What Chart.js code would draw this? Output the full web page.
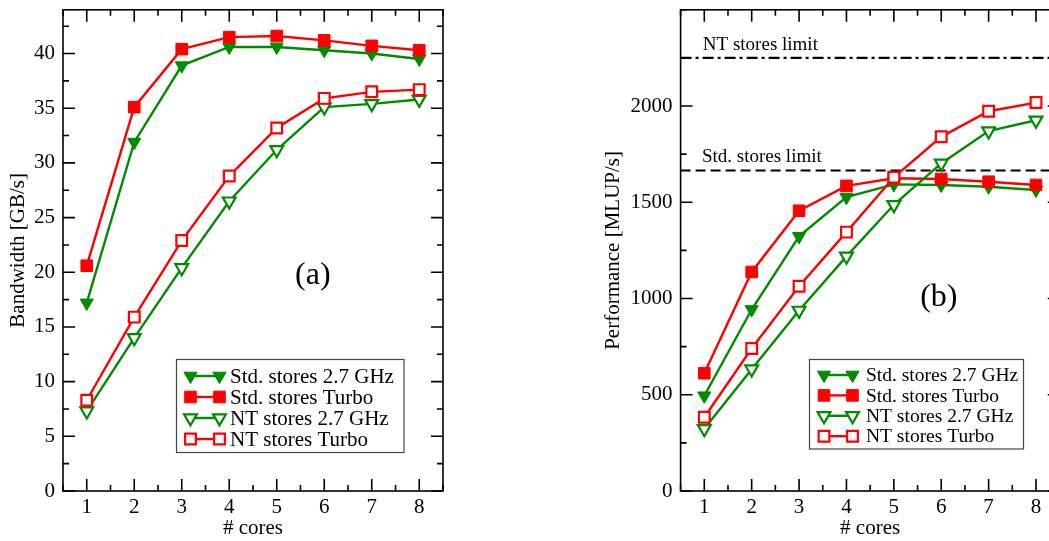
<!DOCTYPE html>
<html>
<head>
<meta charset="utf-8">
<title>Memory bandwidth and stencil performance</title>
<script src="https://cdn.jsdelivr.net/npm/chart.js@4.4.1/dist/chart.umd.min.js"></script>
<style>
html, body { margin: 0; padding: 0; background: #fff; overflow: hidden; width: 1049px; height: 541px; }
#boxA { position: absolute; left: 0; top: 0; }
#boxB { position: absolute; left: 590px; top: 0; }
</style>
</head>
<body>
<div id="boxA"><canvas id="chartA" width="460" height="541"></canvas></div>
<div id="boxB"><canvas id="chartB" width="480" height="541"></canvas></div>
<script>
// x axis: number of cores
const cores = [1, 2, 3, 4, 5, 6, 7, 8];
const coreTicks = [1, 2, 3, 4, 5, 6, 7, 8];

// (a) bandwidth in GB/s
const bwTicks = [0, 5, 10, 15, 20, 25, 30, 35, 40];
const bwStd27 = [17.2, 31.9, 38.9, 40.6, 40.6, 40.3, 40.0, 39.5];
const bwStdTurbo = [20.6, 35.1, 40.4, 41.5, 41.6, 41.2, 40.7, 40.3];
const bwNt27 = [7.3, 14.0, 20.4, 26.5, 31.2, 35.1, 35.4, 35.8];
const bwNtTurbo = [8.3, 15.9, 22.9, 28.8, 33.2, 35.9, 36.5, 36.7];

// (b) performance in MLUP/s
const perfTicks = [0, 500, 1000, 1500, 2000];
const perfStd27 = [495, 943, 1323, 1527, 1593, 1590, 1581, 1564];
const perfStdTurbo = [612, 1138, 1456, 1585, 1625, 1621, 1607, 1590];
const perfNt27 = [323, 633, 938, 1219, 1487, 1702, 1870, 1926];
const perfNtTurbo = [383, 740, 1064, 1345, 1630, 1840, 1973, 2018];
const ntLimit = 2250;
const stdLimit = 1665;

const seriesLabels = ['Std. stores 2.7 GHz', 'Std. stores Turbo', 'NT stores 2.7 GHz', 'NT stores Turbo'];

const SERIF = '"Liberation Serif", "Times New Roman", serif';
const GREEN = '#008b00';
const RED = '#ff0000';

// marker look of each series (xmgrace style)
const seriesStyle = [
  { color: GREEN, open: false, shape: 'triangle', rot: 180, r: 7.6 },
  { color: RED, open: false, shape: 'rect', rot: 0, r: 8.2 },
  { color: GREEN, open: true, shape: 'triangle', rot: 180, r: 7.4 },
  { color: RED, open: true, shape: 'rect', rot: 0, r: 7.6 }
];

function seriesSet(values, k) {
  const s = seriesStyle[k];
  return {
    label: seriesLabels[k],
    data: cores.map((c, i) => ({ x: c, y: values[i] })),
    borderColor: s.color,
    borderWidth: 2.4,
    pointStyle: s.shape,
    pointRotation: s.rot,
    pointRadius: s.r,
    pointBorderColor: s.color,
    pointBackgroundColor: s.open ? '#fff' : s.color,
    pointBorderWidth: s.open ? 2.2 : 1,
    order: 4 - k
  };
}

function limitSet(value, dash) {
  return {
    isLimit: true,
    data: [{ x: 0.5, y: value }, { x: 8.5, y: value }],
    borderColor: '#000',
    borderWidth: 2.2,
    borderDash: dash,
    pointRadius: 0,
    order: 10
  };
}

// box frame with inward major and minor ticks on all four sides
const frameTicks = {
  id: 'frameTicks',
  beforeDatasetsDraw(chart, args, o) {
    const { ctx, chartArea: a, scales: { x, y } } = chart;
    const major = 12, minor = 6;
    ctx.save();
    ctx.strokeStyle = '#000';
    ctx.lineWidth = 1.6;
    ctx.beginPath();
    const isMajor = (scale, v) => scale.ticks.some(t => Math.abs(t.value - v) < 1e-6);
    const xMarks = [], yMarks = [];
    for (let v = Math.ceil(x.min / o.xMinor) * o.xMinor; v <= x.max + 1e-9; v += o.xMinor) {
      xMarks.push([v, isMajor(x, v) ? major : minor]);
    }
    for (let v = Math.ceil(y.min / o.yMinor) * o.yMinor; v <= y.max + 1e-9; v += o.yMinor) {
      yMarks.push([v, isMajor(y, v) ? major : minor]);
    }
    xMarks.forEach(([v, len]) => {
      const px = x.getPixelForValue(v);
      ctx.moveTo(px, a.bottom); ctx.lineTo(px, a.bottom - len);
      ctx.moveTo(px, a.top); ctx.lineTo(px, a.top + len);
    });
    yMarks.forEach(([v, len]) => {
      const py = y.getPixelForValue(v);
      ctx.moveTo(a.left, py); ctx.lineTo(a.left + len, py);
      ctx.moveTo(a.right, py); ctx.lineTo(a.right - len, py);
    });
    ctx.stroke();
    ctx.strokeRect(a.left, a.top, a.right - a.left, a.bottom - a.top);
    ctx.restore();
  }
};

// legend box with a short line and two markers per entry
const boxLegend = {
  id: 'boxLegend',
  afterDraw(chart, args, o) {
    const ctx = chart.ctx;
    ctx.save();
    ctx.fillStyle = '#fff';
    ctx.fillRect(o.left, o.top, o.width, o.height);
    ctx.strokeStyle = '#444';
    ctx.lineWidth = 1.2;
    ctx.strokeRect(o.left, o.top, o.width, o.height);
    chart.data.datasets.filter(d => !d.isLimit).forEach((d, i) => {
      const yy = o.top + o.firstRow + i * o.rowStep;
      const x1 = o.left + o.sym1, x2 = o.left + o.sym2;
      ctx.strokeStyle = d.borderColor;
      ctx.lineWidth = d.borderWidth;
      ctx.beginPath();
      ctx.moveTo(x1, yy);
      ctx.lineTo(x2, yy);
      ctx.stroke();
      [x1, x2].forEach(xx => {
        ctx.fillStyle = d.pointBackgroundColor;
        ctx.strokeStyle = d.pointBorderColor;
        ctx.lineWidth = d.pointBorderWidth;
        Chart.helpers.drawPoint(ctx, {
          pointStyle: d.pointStyle, rotation: d.pointRotation, radius: d.pointRadius, borderWidth: d.pointBorderWidth
        }, xx, yy);
      });
      ctx.fillStyle = '#000';
      ctx.font = o.fontSize + 'px ' + SERIF;
      ctx.textBaseline = 'middle';
      ctx.textAlign = 'left';
      ctx.fillText(d.label, o.left + o.textX, yy + 1);
    });
    ctx.restore();
  }
};

// free text placed in data coordinates
const plotText = {
  id: 'plotText',
  afterDatasetsDraw(chart, args, o) {
    const { ctx, scales: { x, y } } = chart;
    ctx.save();
    ctx.fillStyle = '#000';
    o.items.forEach(it => {
      ctx.font = it.size + 'px ' + SERIF;
      ctx.textAlign = it.align;
      ctx.textBaseline = it.baseline;
      ctx.fillText(it.text, x.getPixelForValue(it.x), y.getPixelForValue(it.y) + (it.dy || 0));
    });
    ctx.restore();
  }
};

function buildChart(id, cfg) {
  return new Chart(document.getElementById(id), {
    type: 'line',
    data: { datasets: cfg.limits.concat(cfg.series.map((v, k) => seriesSet(v, k))) },
    options: {
      responsive: false,
      animation: false,
      events: [],
      layout: { padding: { top: 8, right: cfg.padRight, left: 0, bottom: 0 } },
      plugins: {
        legend: { display: false },
        tooltip: { enabled: false },
        frameTicks: { xMinor: 0.5, yMinor: cfg.yMinor },
        boxLegend: cfg.legend,
        plotText: { items: cfg.texts }
      },
      scales: {
        x: {
          type: 'linear',
          min: 0.5,
          max: 8.5,
          afterBuildTicks: s => { s.ticks = coreTicks.map(v => ({ value: v })); },
          afterFit: s => { s.height = 50; s.paddingLeft = 0; s.paddingRight = 0; },
          grid: { display: false, drawTicks: false },
          border: { display: false },
          ticks: { color: '#000', autoSkip: false, maxRotation: 0, padding: 4, font: { family: SERIF, size: 21 }, callback: v => String(v) },
          title: { display: true, text: '# cores', color: '#000', font: { family: SERIF, size: 21 }, padding: { top: 0, bottom: 0 } }
        },
        y: {
          type: 'linear',
          min: 0,
          max: cfg.yMax,
          afterBuildTicks: s => { s.ticks = cfg.yTicks.map(v => ({ value: v })); },
          afterFit: s => { s.width = cfg.yWidth; s.paddingTop = 0; s.paddingBottom = 0; },
          grid: { display: false, drawTicks: false },
          border: { display: false },
          ticks: { color: '#000', autoSkip: false, padding: 8, font: { family: SERIF, size: 21 }, callback: v => String(v) },
          title: { display: true, text: cfg.yTitle, color: '#000', font: { family: SERIF, size: 21 }, padding: { top: cfg.yTitlePad, bottom: 0 } }
        }
      }
    },
    plugins: [frameTicks, boxLegend, plotText]
  });
}

buildChart('chartA', {
  series: [bwStd27, bwStdTurbo, bwNt27, bwNtTurbo],
  limits: [],
  yMax: 44,
  yTicks: bwTicks,
  yMinor: 2.5,
  yWidth: 63,
  yTitle: 'Bandwidth [GB/s]',
  yTitlePad: 5.5,
  padRight: 17,
  legend: { left: 176.5, top: 359.5, width: 227.5, height: 93, firstRow: 16.5, rowStep: 21, sym1: 14, sym2: 43, textX: 53.5, fontSize: 21 },
  texts: [{ text: '(a)', x: 5.76, y: 19.7, size: 32, align: 'center', baseline: 'middle' }]
});

buildChart('chartB', {
  series: [perfStd27, perfStdTurbo, perfNt27, perfNtTurbo],
  limits: [limitSet(ntLimit, [11, 4, 3, 4]), limitSet(stdLimit, [10, 5])],
  yMax: 2500,
  yTicks: perfTicks,
  yMinor: 250,
  yWidth: 90.6,
  yTitle: 'Performance [MLUP/s]',
  yTitlePad: 11,
  padRight: 10.3,
  legend: { left: 219.5, top: 359.5, width: 214, height: 89.5, firstRow: 15.5, rowStep: 20.4, sym1: 14.5, sym2: 43, textX: 56.5, fontSize: 19.5 },
  texts: [
    { text: 'NT stores limit', x: 0.97, y: ntLimit, dy: -8, size: 19, align: 'left', baseline: 'alphabetic' },
    { text: 'Std. stores limit', x: 0.95, y: stdLimit, dy: -9, size: 19, align: 'left', baseline: 'alphabetic' },
    { text: '(b)', x: 5.95, y: 1007, size: 32, align: 'center', baseline: 'middle' }
  ]
});
</script>
</body>
</html>
